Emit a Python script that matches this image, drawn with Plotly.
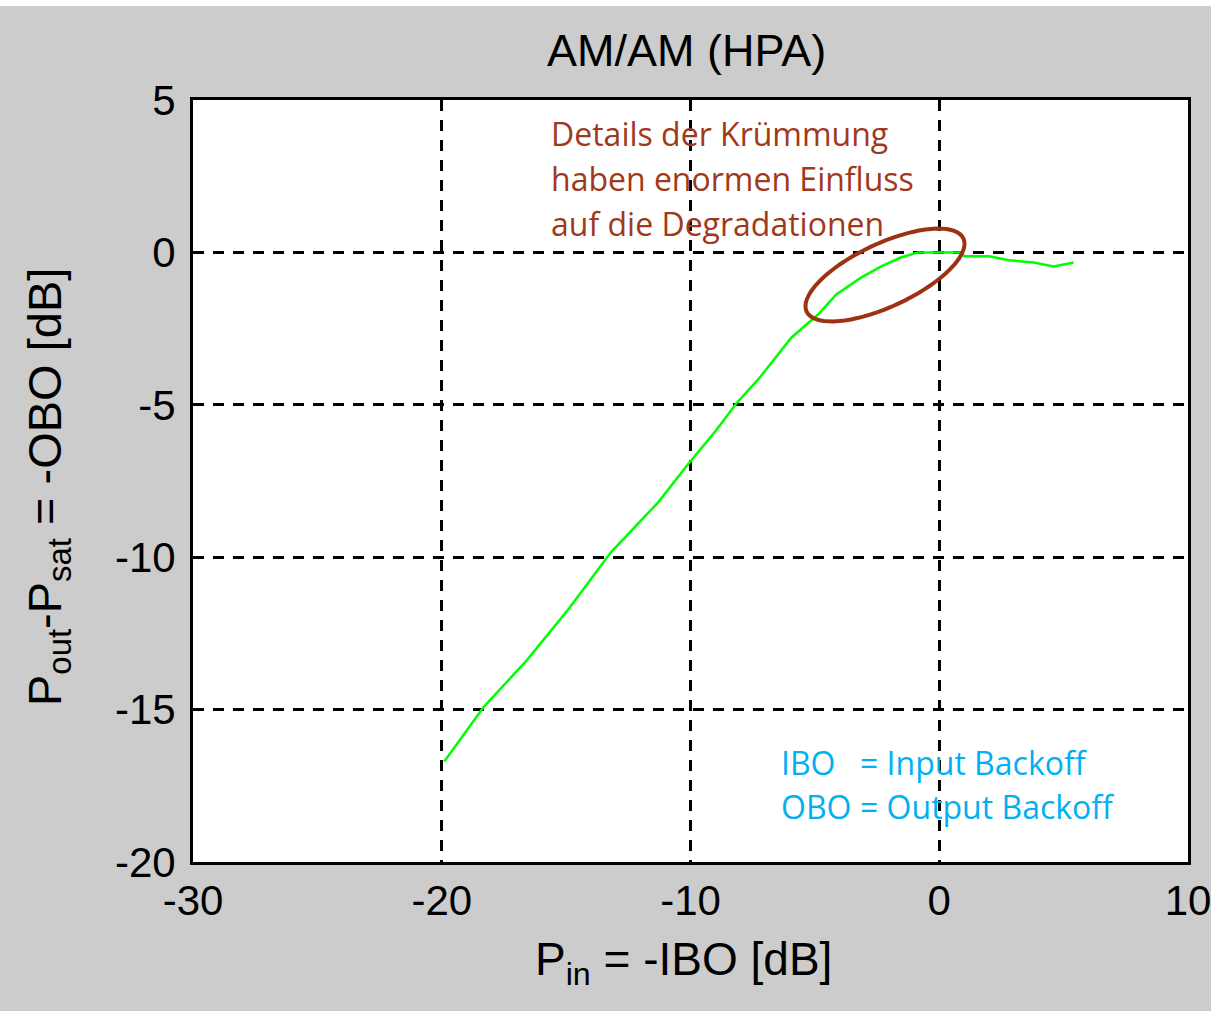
import numpy as np
import plotly.graph_objects as go

# ---- data ----
p_in = [-19.9, -18.3, -16.6, -14.9, -13.2, -11.3, -10.1, -9.0, -8.15, -7.27,
        -5.94, -4.86, -4.14, -3.13, -2.33, -1.53, -0.84, 0.0, 0.88, 1.0,
        2.0, 2.8, 3.8, 4.6, 5.4]
p_out = [-16.7, -14.9, -13.4, -11.7, -9.84, -8.2, -6.95, -5.87, -4.95, -4.16,
         -2.79, -2.03, -1.38, -0.82, -0.46, -0.16, 0.0, 0.0, 0.0, -0.13,
         -0.13, -0.26, -0.33, -0.46, -0.33]

x_ticks = [-30, -20, -10, 0, 10]
x_tick_labels = ["-30", "-20", "-10", "0", "10"]
y_ticks = [-20, -15, -10, -5, 0, 5]
y_tick_labels = ["-20", "-15", "-10", "-5", "0", "5"]

title_text = "AM/AM (HPA)"
x_title = "P<sub>in</sub> = -IBO [dB]"
y_title = "P<sub>out</sub>-P<sub>sat</sub> = -OBO [dB]"
note_lines = ["Details der Krümmung", "haben enormen Einfluss", "auf die Degradationen"]
legend_names = ["IBO", "OBO"]
legend_texts = ["= Input Backoff", "= Output Backoff"]

# ---- layout geometry ----
W, H = 1211, 1011
L, R, T, B = 193, 23, 100, 149
x_range = [-30, 10]
y_range = [-20, 5]
pxx = (W - L - R) / (x_range[1] - x_range[0])
pxy = (H - T - B) / (y_range[1] - y_range[0])
x0px = L - x_range[0] * pxx          # pixel of x = 0
y0px = T + y_range[1] * pxy          # pixel of y = 0

fig = go.Figure()
fig.add_trace(go.Scatter(x=p_in, y=p_out, mode="lines",
                         line=dict(color="#00FF00", width=2.5), showlegend=False))

axis_font = dict(family="Liberation Sans", size=42, color="black")
common = dict(showline=True, linecolor="black", linewidth=3, mirror=True,
              showgrid=True, gridcolor="black", gridwidth=3, griddash="11px,9px",
              zeroline=False, ticks="", tickfont=axis_font, ticklabeloverflow="allow",
              automargin=False)
fig.update_xaxes(range=x_range, tickvals=x_ticks, ticktext=x_tick_labels,
                 ticklabelstandoff=0, **common)
fig.update_yaxes(range=y_range, tickvals=y_ticks, ticktext=y_tick_labels,
                 ticklabelstandoff=6, **common)

# tilted ellipse (drawn in pixel space, converted to data units)
cx, cy = (885 - x0px) / pxx, (y0px - 275) / pxy
a, b, th = 86.5, 31.6, np.deg2rad(25)
t = np.linspace(0, 2 * np.pi, 73)
ex = a * np.cos(t) * np.cos(th) - b * np.sin(t) * np.sin(th)
ey = a * np.cos(t) * np.sin(th) + b * np.sin(t) * np.cos(th)
xs = cx + ex / pxx
ys = cy + ey / pxy
path = "M " + " L ".join(f"{x:.4f},{y:.4f}" for x, y in zip(xs, ys)) + " Z"
fig.add_shape(type="path", path=path, xref="x", yref="y",
              line=dict(color="#9C3212", width=4))

anns = []
note_font = "Open Sans"
brown = "#A0391A"
for i, line in enumerate(note_lines):
    anns.append(dict(x=(549 - x0px) / pxx, y=(y0px - (133 + 45 * i)) / pxy, xref="x", yref="y",
                     text=line, showarrow=False, xanchor="left", yanchor="middle",
                     font=dict(family=note_font, size=32, color=brown)))
blue = "#00B0F0"
for i in range(2):
    yv = (y0px - (762 + 44 * i)) / pxy
    anns.append(dict(x=(779 - x0px) / pxx, y=yv, xref="x", yref="y", text=legend_names[i],
                     showarrow=False, xanchor="left", yanchor="middle",
                     font=dict(family=note_font, size=32, color=blue)))
    anns.append(dict(x=(858 - x0px) / pxx, y=yv, xref="x", yref="y", text=legend_texts[i],
                     showarrow=False, xanchor="left", yanchor="middle",
                     font=dict(family=note_font, size=32, color=blue)))
# title and axis titles
anns.append(dict(x=(686 - L) / (W - L - R), y=1, xref="paper", yref="paper", yshift=50,
                 text=title_text, showarrow=False, xanchor="center", yanchor="middle",
                 font=dict(family="Liberation Sans", size=45, color="black")))
anns.append(dict(x=(683 - L) / (W - L - R), y=0, xref="paper", yref="paper", yshift=-100,
                 text=x_title, showarrow=False, xanchor="center", yanchor="middle",
                 font=dict(family="Liberation Sans", size=46, color="black")))
anns.append(dict(x=0, y=(H - B - 487) / (H - T - B), xref="paper", yref="paper", xshift=-145,
                 text=y_title, showarrow=False, xanchor="center", yanchor="middle", textangle=-90,
                 font=dict(family="Liberation Sans", size=47, color="black")))

# white strip at top of the image
fig.add_shape(type="rect", xref="paper", yref="paper", x0=-1, x1=2,
              y0=1 + (T - 6) / (H - T - B), y1=1 + T / (H - T - B) + 0.1,
              fillcolor="white", line=dict(width=0), layer="below")

fig.update_layout(width=W, height=H, margin=dict(l=L, r=R, t=T, b=B, autoexpand=False),
                  paper_bgcolor="#CCCCCC", plot_bgcolor="white",
                  annotations=anns, showlegend=False)

fig.write_html("out.html")
